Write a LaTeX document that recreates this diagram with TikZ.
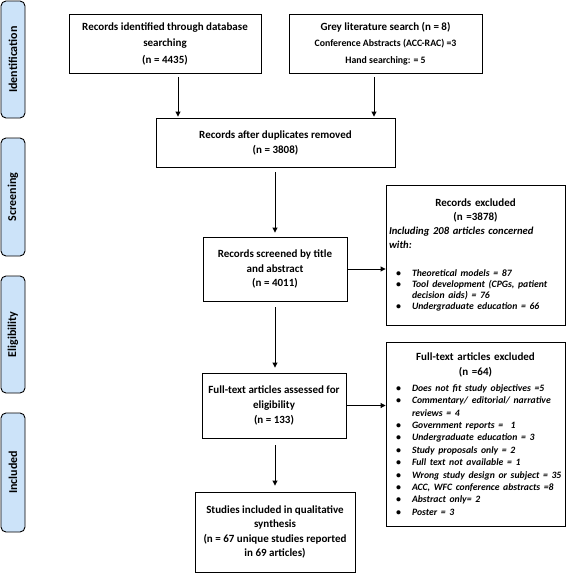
\documentclass[tikz,border=0pt]{standalone}
\usepackage{fontspec}
\setmainfont{Carlito}
\usetikzlibrary{arrows.meta}
\definecolor{phaseblue}{RGB}{204,227,249}
\newcommand{\bulletitem}[1]{\par\hyphenpenalty=10000\hangindent=23pt\hangafter=1\noindent\hspace*{7pt}\makebox[16pt][l]{\textbullet}#1}

\begin{document}
\begin{tikzpicture}[x=1pt,y=-1pt,
    box/.style={draw,line width=0.9pt,align=center,inner sep=3pt,font=\bfseries\fontsize{11}{15}\selectfont},
    listbox/.style={draw,line width=0.9pt,align=left,inner xsep=3pt,inner ysep=4pt,text width=173pt,font=\bfseries\fontsize{11}{14}\selectfont},
    phase/.style={draw,line width=0.9pt,rounded corners=5pt,fill=phaseblue,rotate=90,minimum height=24pt,font=\bfseries\fontsize{12}{14}\selectfont},
    arr/.style={line width=0.9pt,-{Triangle[length=5pt,width=5pt]}}]
    \useasboundingbox (0,0) rectangle (568,573);
    %% Phase labels
    \node[phase,minimum width=117pt] (ident) at (13,59.5) {Identification};
    \node[phase,minimum width=118pt] (screening) at (13,197) {Screening};
    \node[phase,minimum width=117pt] (elig) at (13,334.5) {Eligibility};
    \node[phase,minimum width=119pt] (included) at (13,472.5) {Included};
    %% Identification
    \node[box,minimum width=192pt,minimum height=59pt,font=\bfseries\fontsize{11}{16.5}\selectfont] (db) at (165,43.5) {Records identified through database\\searching\\(n = 4435)};
    \node[box,minimum width=193pt,minimum height=59pt,font=\bfseries\fontsize{11}{16.5}\selectfont] (grey) at (385.5,43.5) {Grey literature search (n = 8)\\{\fontsize{9.8}{16.5}\selectfont Conference Abstracts (ACC-RAC) =3}\\{\fontsize{9.8}{16.5}\selectfont Hand searching: = 5}};
    %% Screening
    \node[box,minimum width=239pt,minimum height=49pt] (dup) at (275.5,142.5) {Records after duplicates removed\\(n = 3808)};
    \node[box,minimum width=144pt,minimum height=64pt,font=\bfseries\fontsize{11}{14.5}\selectfont] (screen) at (275,269) {Records screened by title\\and abstract\\(n = 4011)};
    \node[listbox,minimum height=140pt] (recexcl) at (475.5,255) {%
        {\centering Records excluded\\(n =3878)\par}
        {\fontsize{10.6}{14}\selectfont\itshape Including 208 articles concerned\\with:\par}
        \vspace{17pt}
        {\fontsize{9.7}{11}\selectfont\itshape
        \bulletitem{Theoretical models = 87}
        \bulletitem{Tool development (CPGs, patient decision aids) = 76}
        \bulletitem{Undergraduate education = 66}\par}
        \vspace*{10pt}};
    %% Eligibility
    \node[box,minimum width=144pt,minimum height=65pt] (full) at (274,405.5) {Full-text articles assessed for\\eligibility\\(n = 133)};
    \node[listbox,minimum height=184pt] (fullexcl) at (475.5,434) {%
        {\centering\fontsize{11}{15}\selectfont Full-text articles excluded\\(n =64)\par}
        \vspace{3.6pt}
        {\fontsize{9.7}{12.4}\selectfont\itshape
        \bulletitem{Does not fit study objectives =5}
        \bulletitem{Commentary/ editorial/ narrative reviews = 4}
        \bulletitem{Government reports =~ 1}
        \bulletitem{Undergraduate education = 3}
        \bulletitem{Study proposals only = 2}
        \bulletitem{Full text not available = 1}
        \bulletitem{Wrong study design or subject = 35}
        \bulletitem{ACC, WFC conference abstracts =8}
        \bulletitem{Abstract only= 2}
        \bulletitem{Poster = 3}\par}};
    %% Included
    \node[box,minimum width=160pt,minimum height=80pt,font=\bfseries\fontsize{11}{14.5}\selectfont] (incl) at (275,532) {Studies included in qualitative\\synthesis\\(n = 67 unique studies reported\\in 69 articles)};
    %% Arrows
    \draw[arr,shorten <=4pt,shorten >=1pt] ([xshift=13pt]db.south) -- ([xshift=13pt]db.south |- dup.north);
    \draw[arr,shorten <=4pt,shorten >=1pt] ([xshift=-11.5pt]grey.south) -- ([xshift=-11.5pt]grey.south |- dup.north);
    \draw[arr,shorten <=5pt,shorten >=4pt] (dup.south -| screen.north) -- (screen.north);
    \draw[arr,shorten <=6pt,shorten >=5pt] (screen.south) -- (screen.south |- full.north);
    \draw[arr,shorten <=7pt,shorten >=6pt] (full.south -| incl.north) -- (incl.north);
    \draw[arr] (screen.east) -- (screen.east -| recexcl.west);
    \draw[arr] (full.east) -- (full.east -| fullexcl.west);
\end{tikzpicture}
\end{document}
